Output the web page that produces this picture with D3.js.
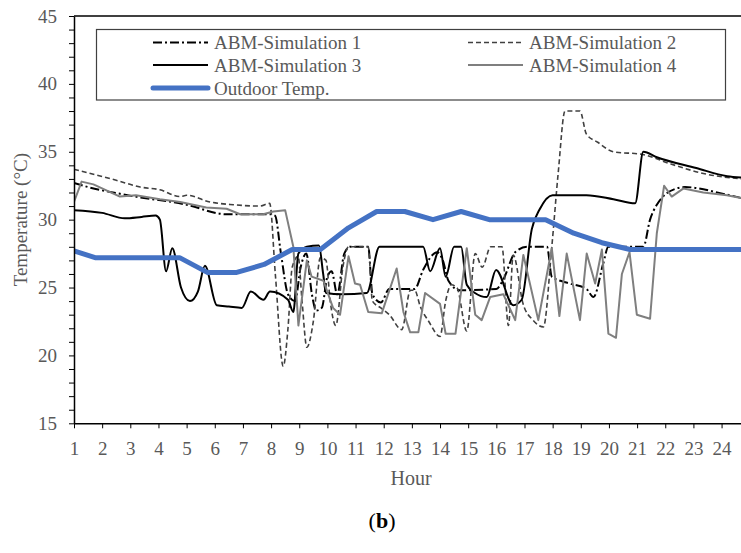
<!DOCTYPE html>
<html>
<head>
<meta charset="utf-8">
<script src="https://cdn.jsdelivr.net/npm/d3@7"></script>
<style>
  body { margin: 0; background: #fff; }
  text { font-family: "Liberation Serif", "Times New Roman", serif; }
</style>
</head>
<body>
<div class="chart"></div>
<script>
'use strict';

// values (hour, temperature in degC)
var hourLabels = [1, 2, 3, 4, 5, 6, 7, 8, 9, 10, 11, 12, 13, 14, 15, 16, 17, 18, 19, 20, 21, 22, 23, 24];
var tempTicks = [15, 20, 25, 30, 35, 40, 45];
var seriesNames = ['ABM-Simulation 1', 'ABM-Simulation 2', 'ABM-Simulation 3', 'ABM-Simulation 4', 'Outdoor Temp.'];

var sim1Hours = [1, 1.5, 2.9, 5.0, 6.4, 7.95, 8.14, 8.35, 8.6, 8.85, 9.05, 9.25, 9.45, 9.6, 9.8, 10.0, 10.15, 10.35, 10.6, 10.8,
  11.45, 11.6, 11.9, 12.2, 13.1, 13.4, 13.9, 14.1, 14.3, 14.7, 16.0, 16.25, 16.67, 17.1, 17.8, 17.97, 18.6, 19.2, 19.45, 19.8,
  19.98, 21.22, 21.46, 21.7, 22.4, 22.7, 24.07, 24.69];
var sim1Temps = [32.7, 32.4, 31.8, 31.1, 30.4, 30.4, 30.3, 27.5, 24.5, 24.0, 26.5, 27.5, 24.5, 23.3, 23.5, 25.8, 26.2, 24.5, 27.5, 28.0,
  28.0, 24.5, 23.9, 24.9, 24.9, 26.3, 27.6, 27.0, 25.5, 24.8, 24.9, 25.6, 27.6, 28.0, 28.0, 25.8, 25.3, 24.9, 24.3, 26.8,
  28.0, 28.0, 30.0, 31.1, 32.3, 32.4, 31.9, 31.6];

var sim2Hours = [1, 1.2, 2.5, 3.35, 4.05, 4.77, 5.0, 5.83, 6.66, 7.6, 7.95, 8.15, 8.43, 8.6, 8.75, 8.96, 9.1, 9.27, 9.5, 9.75,
  9.95, 10.1, 10.3, 10.55, 10.75, 11.45, 11.6, 11.9, 12.2, 12.64, 12.95, 13.1, 13.3, 13.6, 14.0, 14.2, 14.4, 14.6, 14.95, 15.25,
  15.5, 15.8, 16.2, 16.43, 16.6, 16.95, 17.3, 17.67, 17.97, 18.2, 18.44, 18.97, 19.2, 19.6, 20.16, 21.2, 22.2, 23.35, 24.69];
var sim2Temps = [33.7, 33.6, 32.9, 32.4, 32.2, 31.7, 31.8, 31.3, 31.1, 31.0, 31.2, 26.0, 19.2, 22.0, 26.5, 27.3, 24.0, 20.6, 22.5, 27.2,
  27.0, 24.0, 22.2, 26.5, 28.0, 28.0, 24.0, 23.5, 23.0, 21.9, 24.8, 24.8, 23.6, 22.5, 21.4, 24.0, 25.2, 25.0, 21.8, 27.5,
  26.5, 28.0, 28.0, 22.2, 27.4, 23.8, 22.6, 22.1, 28.0, 33.5, 38.0, 38.0, 36.3, 35.7, 35.0, 34.8, 34.1, 33.4, 33.0];

var sim3Hours = [1, 2, 2.8, 3.4, 3.9, 4.05, 4.27, 4.49, 4.8, 5.12, 5.4, 5.65, 6.07, 6.5, 6.96, 7.28, 7.73, 7.96, 8.6, 8.79,
  8.97, 9.27, 9.7, 9.85, 9.95, 10.5, 11.4, 11.85, 12.5, 13.4, 13.65, 14.0, 14.2, 14.5, 14.75, 14.95, 15.24, 15.66, 15.99, 16.6,
  16.9, 17.26, 17.55, 18.0, 19.2, 20.16, 20.93, 21.22, 21.7, 23.1, 24.2, 24.69];
var sim3Temps = [30.7, 30.5, 30.1, 30.2, 30.3, 30.0, 26.2, 27.9, 25.0, 24.0, 24.7, 26.6, 23.7, 23.6, 23.5, 24.7, 24.1, 24.7, 24.1, 23.2,
  27.5, 28.0, 28.1, 26.0, 24.6, 24.5, 24.6, 28.0, 28.0, 28.0, 26.2, 27.9, 25.8, 28.0, 28.0, 25.2, 24.6, 24.3, 26.3, 23.7,
  24.1, 29.3, 30.8, 31.8, 31.8, 31.5, 31.2, 35.0, 34.6, 33.8, 33.2, 33.1];

var sim4Hours = [1, 1.27, 1.69, 2.63, 3.2, 4.05, 4.77, 5.7, 6.42, 6.9, 7.72, 8.08, 8.5, 8.79, 8.97, 9.27, 9.44, 9.86, 10.2, 10.45,
  10.75, 10.98, 11.16, 11.45, 11.93, 12.46, 12.7, 12.94, 13.23, 13.47, 14.0, 14.2, 14.55, 14.95, 15.25, 15.48, 15.78, 16.25, 16.67, 16.96,
  17.49, 17.97, 18.24, 18.5, 18.97, 19.21, 19.51, 19.75, 19.98, 20.25, 20.46, 20.73, 20.99, 21.46, 21.7, 21.96, 22.23, 22.65, 23.35, 24.19,
  24.69];
var sim4Temps = [31.3, 32.8, 32.6, 31.7, 31.8, 31.5, 31.3, 30.9, 30.8, 30.4, 30.4, 30.6, 30.7, 28.0, 22.2, 27.0, 25.8, 25.5, 23.5, 23.0,
  27.3, 25.3, 25.2, 23.2, 23.1, 26.4, 23.2, 21.7, 21.7, 24.6, 23.8, 21.6, 21.6, 27.9, 23.0, 22.6, 24.3, 24.5, 22.6, 27.4,
  22.6, 27.9, 22.9, 27.5, 22.6, 27.5, 25.3, 27.8, 21.6, 21.3, 26.0, 27.6, 23.0, 22.7, 29.0, 32.5, 31.7, 32.3, 32.0, 31.8,
  31.6];

var outdoorHours = [1, 1.75, 2.75, 3.75, 4.75, 5.75, 6.75, 7.75, 8.75, 9.75, 10.75, 11.75, 12.75, 13.75, 14.75, 15.75, 16.75, 17.75,
  18.75, 19.75, 20.75, 21.75, 22.75, 23.75, 24.69];
var outdoorTemps = [27.7, 27.2, 27.2, 27.2, 27.2, 26.1, 26.1, 26.7, 27.8, 27.8, 29.4, 30.6, 30.6, 30.0, 30.6, 30.0, 30.0, 30.0,
  29.0, 28.3, 27.8, 27.8, 27.8, 27.8, 27.8];

var WIDTH = 741;
var HEIGHT = 553;
var PLOT = { left: 74, right: 741, top: 16, bottom: 423.3 };
var TEXT_COLOR = '#595959';
var FONT_SIZE = 19;

var STYLES = [
  { stroke: '#000000', width: 2, dash: '9,3,2,3', curve: d3.curveMonotoneX },
  { stroke: '#404040', width: 1.6, dash: '5,3', curve: d3.curveMonotoneX },
  { stroke: '#000000', width: 2, dash: null, curve: d3.curveMonotoneX },
  { stroke: '#7f7f7f', width: 2, dash: null, curve: d3.curveLinear },
  { stroke: '#4472c4', width: 5, dash: null, curve: d3.curveLinear }
];

function zip(hours, temps) {
  return hours.map(function(h, i) { return { hour: h, temp: temps[i] }; });
}

var series = [
  zip(sim1Hours, sim1Temps),
  zip(sim2Hours, sim2Temps),
  zip(sim3Hours, sim3Temps),
  zip(sim4Hours, sim4Temps),
  zip(outdoorHours, outdoorTemps)
];

var svg = d3.select('.chart').append('svg')
  .attr('width', WIDTH)
  .attr('height', HEIGHT);

var x = d3.scaleLinear().domain([1, 24.69]).range([PLOT.left, PLOT.right]);
var y = d3.scaleLinear().domain([15, 45]).range([PLOT.bottom, PLOT.top]);

// top frame line
svg.append('line')
  .attr('x1', PLOT.left).attr('x2', PLOT.right)
  .attr('y1', y(45)).attr('y2', y(45))
  .style('stroke', '#000').style('stroke-width', 1.5);

// series
var clip = svg.append('defs').append('clipPath').attr('id', 'plot-clip');
clip.append('rect')
  .attr('x', PLOT.left).attr('y', PLOT.top)
  .attr('width', PLOT.right - PLOT.left).attr('height', PLOT.bottom - PLOT.top);

var lines = svg.append('g').attr('clip-path', 'url(#plot-clip)');
series.forEach(function(data, i) {
  var st = STYLES[i];
  var line = d3.line()
    .x(function(d) { return x(d.hour); })
    .y(function(d) { return y(d.temp); })
    .curve(st.curve);
  lines.append('path')
    .attr('d', line(data))
    .style('fill', 'none')
    .style('stroke', st.stroke)
    .style('stroke-width', st.width)
    .style('stroke-dasharray', st.dash)
    .style('stroke-linejoin', 'round');
});

// y axis, a tick every degree, labels every 5
var yAxis = d3.axisLeft(y)
  .tickValues(d3.range(15, 46, 1))
  .tickFormat(function(d) { return tempTicks.indexOf(d) != -1 ? d : ''; })
  .tickSize(5)
  .tickSizeOuter(0)
  .tickPadding(12);
var yg = svg.append('g')
  .attr('transform', 'translate(' + PLOT.left + ',0)')
  .call(yAxis);

var xAxis = d3.axisBottom(x)
  .tickValues(hourLabels)
  .tickSize(5)
  .tickSizeOuter(0)
  .tickPadding(13);
var xg = svg.append('g')
  .attr('transform', 'translate(0,' + PLOT.bottom + ')')
  .call(xAxis);

[yg, xg].forEach(function(g) {
  g.select('.domain').style('stroke', '#000').style('stroke-width', 1.5);
  g.selectAll('.tick line').style('stroke', '#000').style('stroke-width', 1);
  g.selectAll('.tick text')
    .style('font-family', '"Liberation Serif", "Times New Roman", serif')
    .style('font-size', FONT_SIZE + 'px')
    .style('fill', TEXT_COLOR);
});

// axis titles
svg.append('text')
  .text('Temperature (°C)')
  .attr('transform', 'translate(27,' + ((PLOT.top + PLOT.bottom) / 2) + ') rotate(-90)')
  .attr('text-anchor', 'middle')
  .style('font-size', FONT_SIZE + 'px')
  .style('fill', TEXT_COLOR);

svg.append('text')
  .text('Hour')
  .attr('x', 411)
  .attr('y', 485)
  .attr('text-anchor', 'middle')
  .style('font-size', '20px')
  .style('fill', TEXT_COLOR);

var caption = svg.append('text')
  .attr('x', 382)
  .attr('y', 528)
  .attr('text-anchor', 'middle')
  .style('font-size', '22px')
  .style('fill', '#000');
caption.append('tspan').text('(');
caption.append('tspan').text('b').style('font-weight', 'bold');
caption.append('tspan').text(')');

// legend
var legend = svg.append('g');
legend.append('rect')
  .attr('x', 96.5).attr('y', 29.5)
  .attr('width', 629).attr('height', 70.5)
  .style('fill', '#fff')
  .style('stroke', '#404040')
  .style('stroke-width', 1.2);

var LEGEND_POS = [[153, 42.5], [468, 42.5], [153, 65], [468, 65], [153, 88]];
seriesNames.forEach(function(name, i) {
  var st = STYLES[i];
  var p = LEGEND_POS[i];
  legend.append('line')
    .attr('x1', p[0]).attr('x2', p[0] + 55)
    .attr('y1', p[1]).attr('y2', p[1])
    .style('stroke', st.stroke)
    .style('stroke-width', st.width)
    .style('stroke-dasharray', st.dash)
    .style('stroke-linecap', i == 4 ? 'round' : 'butt');
  legend.append('text')
    .text(name)
    .attr('x', p[0] + 61)
    .attr('y', p[1] + 6.5)
    .style('font-size', FONT_SIZE + 'px')
    .style('fill', TEXT_COLOR);
});
</script>
</body>
</html>
